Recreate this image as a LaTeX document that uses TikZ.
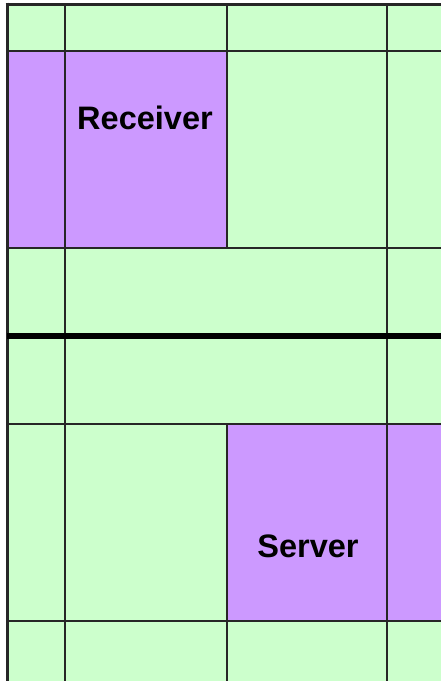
\documentclass[tikz,border=0pt]{standalone}
\usepackage{fontspec}
\setmainfont{Liberation Sans}
\definecolor{cellgreen}{RGB}{204,255,204}
\definecolor{cellpurple}{RGB}{204,153,255}
\tikzset{
  gridline/.style={draw=black!85, line width=2pt},
  borderline/.style={draw=black!85, line width=3pt},
  thickline/.style={draw=black, line width=6pt},
  label/.style={font=\bfseries\fontsize{32.5}{38}\selectfont, text=black, inner sep=0pt, anchor=base}
}
\begin{document}
\begin{tikzpicture}[x=1pt,y=-1pt]
\useasboundingbox (0,0) rectangle (441,681);
\fill[white] (0,0) rectangle (441,681);
% background green
\fill[cellgreen] (7,4) rectangle (441,681);
% purple cells
\fill[cellpurple] (7,51) rectangle (227,248);
\fill[cellpurple] (227,424) rectangle (441,621);
% horizontal lines
\draw[gridline] (7,51) -- (441,51);
\draw[gridline] (7,248) -- (441,248);
\draw[gridline] (7,424) -- (441,424);
\draw[gridline] (7,621) -- (441,621);
% vertical lines
\draw[gridline] (65,4) -- (65,681);
\draw[gridline] (387,4) -- (387,681);
\draw[gridline] (227,4) -- (227,248);
\draw[gridline] (227,424) -- (227,681);
% borders
\draw[borderline] (5.5,4) -- (441,4);
\draw[borderline] (7,2.5) -- (7,681);
\draw[thickline] (7,336) -- (441,336);
% labels
\node[label] (receiver) at (145,129) {Receiver};
\node[label] (server) at (308,557) {Server};
\end{tikzpicture}
\end{document}
